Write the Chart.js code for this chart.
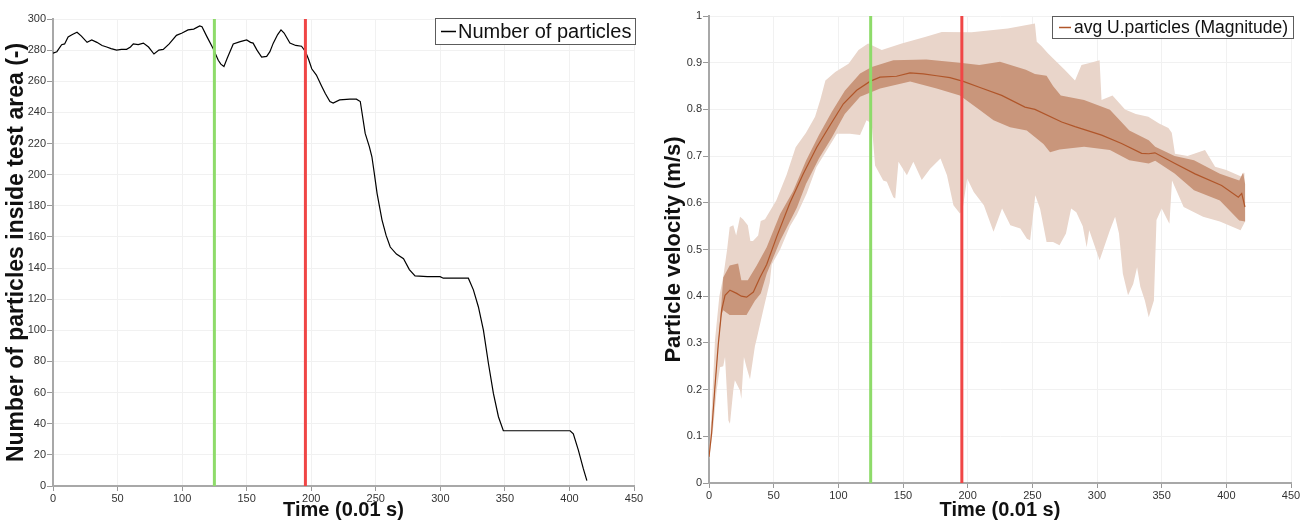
<!DOCTYPE html>
<html>
<head>
<meta charset="utf-8">
<script src="https://cdn.jsdelivr.net/npm/chart.js@4.4.1/dist/chart.umd.min.js"></script>
<style>
  body { margin: 0; background: #fff; }
  #wrap { display: flex; width: 1312px; height: 520px; }
  canvas { display: block; }
</style>
</head>
<body>
<div id="wrap">
  <canvas id="countChart" width="650" height="520"></canvas>
  <canvas id="velChart" width="662" height="520"></canvas>
</div>
<script>
// ---- data ----
const markerTimes = [125, 195.5]; // green, red

// left: particles inside the test area
const countLabel = "Number of particles";
const countTime = [0, 3, 6.7, 9, 11.7, 15, 18.6, 22, 26.4, 30, 34, 38, 41.6, 45, 49.3, 53, 57, 60, 62.2, 66,
  70, 74, 78.2, 82, 85.4, 90, 95.6, 100, 104.6, 109, 113.6, 115.4, 119, 124, 128, 130, 132.4, 135, 139.6, 145,
  150, 153, 155, 158, 161.6, 165.5, 168, 170.6, 174, 176.6, 179, 183.5, 188, 192.5, 195.6, 198, 200.4, 204, 208, 211,
  214.5, 217, 222, 230, 235, 238, 241.8, 245, 247, 249, 251, 253, 254.8, 258, 261.2, 266, 271.5, 276, 280.4, 290,
  299.8, 302.3, 315, 321.7, 325.6, 329.5, 333.4, 337.2, 341.1, 345, 348.8, 360, 380, 400.5, 403, 406.9, 410.8, 413.5];
const countValue = [278, 279, 283.5, 284, 288.5, 290, 291.5, 289, 285, 286.5, 285, 283, 282, 281, 280, 280.5, 280.5, 282, 284, 283.5,
  284.5, 282, 277.5, 280, 280.5, 284, 289.5, 291, 293, 293.5, 295.5, 295, 289, 281, 273.5, 271, 269.5, 275, 284, 285.5,
  286.5, 285, 284.5, 280, 275.5, 276, 279, 284.5, 290, 293, 291, 284.5, 283, 282.5, 279, 274, 268, 264, 257, 252,
  247, 246, 248, 248.5, 248.5, 247, 226.5, 218, 211.5, 200, 188, 179, 171, 161, 153.5, 149, 146, 139, 135, 134.5,
  134.5, 133.5, 133.5, 133.5, 126, 115, 100, 79, 59.5, 44.5, 35.5, 35.5, 35.5, 35.5, 33.5, 23, 11, 3.5];

// right: particle velocity, average plus two spread bands
const velLabel = "avg U.particles (Magnitude)";
const velTime = [0, 2, 4.6, 7.2, 9.8, 12.4, 16.2, 21.4, 25, 29.1, 34.3, 39.4, 44.6, 52.3, 62.6, 72.9, 83.3, 93.6, 103.9, 114.2,
  124.5, 132.2, 145, 155.4, 165.7, 176, 186.3, 196.6, 209.5, 226.3, 244.3, 252, 272.7, 283, 303.6, 319, 334.5, 340, 344.8, 360.3,
  375.8, 396.4, 409.3, 411.9, 414.4];
const velAvg = [0.056, 0.106, 0.206, 0.298, 0.37, 0.402, 0.413, 0.406, 0.4, 0.398, 0.409, 0.44, 0.468, 0.527, 0.6, 0.662, 0.719, 0.766, 0.812, 0.841,
  0.86, 0.869, 0.871, 0.878, 0.876, 0.872, 0.868, 0.86, 0.847, 0.83, 0.805, 0.8, 0.773, 0.763, 0.745, 0.727, 0.706, 0.705, 0.707, 0.684,
  0.662, 0.637, 0.612, 0.62, 0.591];

const darkHiTime = [0, 4.6, 7.2, 9.5, 11, 16, 22.5, 25, 30, 36.9, 44.6, 55, 65, 75, 85, 95, 105, 116.8, 125.8, 142.5,
  168, 194, 209, 225, 245, 252, 261, 266, 272, 290, 310, 325, 340, 345, 360, 375, 395, 410, 413, 414.5];
const darkHi = [0.056, 0.21, 0.3, 0.38, 0.44, 0.466, 0.47, 0.434, 0.434, 0.466, 0.505, 0.576, 0.625, 0.69, 0.745, 0.795, 0.84, 0.877, 0.891, 0.905,
  0.907, 0.9, 0.895, 0.902, 0.885, 0.876, 0.872, 0.85, 0.83, 0.82, 0.799, 0.755, 0.734, 0.72, 0.7, 0.691, 0.662, 0.648, 0.665, 0.64];
const darkLoTime = [0, 4.6, 7.2, 9.5, 11, 16, 29, 35.5, 40, 44.6, 55, 68, 75, 85, 95, 105, 116.8, 132.3, 155.5, 176,
  194, 209.6, 220, 232.8, 245.7, 258.6, 263.7, 271, 290, 310, 325, 340, 345, 360, 375, 395, 410, 414.5];
const darkLo = [0.056, 0.202, 0.296, 0.36, 0.37, 0.36, 0.36, 0.39, 0.406, 0.448, 0.519, 0.59, 0.64, 0.695, 0.74, 0.79, 0.827, 0.845, 0.86, 0.845,
  0.83, 0.798, 0.777, 0.762, 0.755, 0.726, 0.708, 0.714, 0.72, 0.713, 0.691, 0.684, 0.69, 0.663, 0.627, 0.605, 0.562, 0.56];

const lightHiTime = [0, 2, 4.6, 8, 11, 14, 16, 18.8, 21, 24, 26.3, 30, 32, 34, 38, 40, 43.3, 52, 60, 67,
  75, 82, 86, 90, 97.6, 107.9, 115.6, 123, 133.6, 149, 167, 180, 203, 231, 252, 253.4, 257.2, 262, 267.5, 275,
  283, 288, 295, 302, 303.5, 312, 321.7, 330, 339.7, 348, 355.2, 357.8, 360.3, 370, 383.5, 391.3, 400, 411.9, 414, 414.5];
const lightHi = [0.06, 0.15, 0.305, 0.4, 0.441, 0.5, 0.548, 0.552, 0.53, 0.57, 0.565, 0.552, 0.518, 0.518, 0.53, 0.561, 0.565, 0.605, 0.66, 0.719,
  0.75, 0.784, 0.82, 0.862, 0.88, 0.898, 0.927, 0.941, 0.927, 0.941, 0.955, 0.966, 0.965, 0.973, 0.984, 0.945, 0.935, 0.92, 0.905, 0.885,
  0.862, 0.895, 0.9, 0.905, 0.82, 0.83, 0.8, 0.79, 0.784, 0.77, 0.76, 0.75, 0.705, 0.7, 0.713, 0.677, 0.67, 0.656, 0.665, 0.58];
const lightLoTime = [0, 3.3, 6, 8.5, 11, 12.4, 15, 16.2, 18.8, 20, 24, 25, 27, 29, 31.7, 35.5, 37, 42, 47, 48.5,
  55, 62.6, 68, 75.5, 83, 98.9, 109, 116.8, 121.8, 125.8, 128.4, 134.7, 137.5, 142.5, 144, 146.5, 153, 158, 164.5, 171,
  179, 184, 189, 194, 196, 199.6, 204.7, 212.5, 220, 226.6, 233, 240.7, 245.8, 248.3, 252.3, 256, 261, 266, 271, 276,
  280, 284, 289, 292, 294, 302, 310, 314, 317, 320, 324, 328, 331, 333.5, 337, 340, 344, 346, 350, 356,
  358, 367, 382, 395, 411, 414.5];
const lightLo = [0.05, 0.12, 0.2, 0.248, 0.25, 0.27, 0.134, 0.127, 0.199, 0.22, 0.198, 0.18, 0.27, 0.248, 0.222, 0.293, 0.31, 0.371, 0.43, 0.468,
  0.5, 0.55, 0.575, 0.62, 0.676, 0.748, 0.748, 0.745, 0.777, 0.77, 0.68, 0.648, 0.645, 0.612, 0.609, 0.688, 0.659, 0.688, 0.649, 0.673,
  0.695, 0.659, 0.595, 0.577, 0.584, 0.652, 0.623, 0.595, 0.538, 0.588, 0.552, 0.545, 0.523, 0.52, 0.616, 0.587, 0.516, 0.516, 0.509, 0.534,
  0.588, 0.58, 0.55, 0.505, 0.541, 0.477, 0.541, 0.57, 0.534, 0.448, 0.402, 0.426, 0.462, 0.42, 0.391, 0.355, 0.391, 0.563, 0.588, 0.555,
  0.648, 0.591, 0.57, 0.56, 0.541, 0.56];

// ---- styling ----
const FONT = "'Liberation Sans', Arial, sans-serif";
const GREEN = "#8edb6a";
const RED = "#f04646";
const BROWN = "#b0562a";

const pts = (ts, vs) => ts.map((t, i) => ({ x: t, y: vs[i] }));
// closed outline: upper edge left->right, lower edge back right->left
const band = (hiT, hi, loT, lo) => pts(hiT, hi).concat(pts(loT, lo).reverse());
const vline = (t, top) => [{ x: t, y: 0 }, { x: t, y: top }];

const boxLegend = {
  id: "boxLegend",
  afterDraw(chart, args, o) {
    const { ctx, chartArea } = chart;
    ctx.save();
    ctx.font = `${o.fontSize}px ${FONT}`;
    const tw = ctx.measureText(o.text).width;
    const w = o.padLeft + o.swatch + o.gap + tw + o.padRight;
    const right = chartArea.right + o.dx;
    const top = chartArea.top + o.dy;
    const left = Math.round(right - w);
    ctx.fillStyle = "#fff";
    ctx.fillRect(left, top, w, o.height);
    ctx.strokeStyle = "#5c5c5c";
    ctx.lineWidth = 1;
    ctx.strokeRect(left + 0.5, top + 0.5, Math.round(w), o.height);
    const cy = top + o.height / 2 + 0.5;
    ctx.strokeStyle = o.color;
    ctx.lineWidth = o.lineWidth;
    ctx.beginPath();
    ctx.moveTo(left + o.padLeft, cy);
    ctx.lineTo(left + o.padLeft + o.swatch, cy);
    ctx.stroke();
    ctx.fillStyle = "#111";
    ctx.textBaseline = "middle";
    ctx.fillText(o.text, left + o.padLeft + o.swatch + o.gap, cy + 1);
    ctx.restore();
  },
};

function xScale(height) {
  return {
    type: "linear",
    min: 0,
    max: 450,
    ticks: { stepSize: 50, maxRotation: 0, autoSkip: false, padding: 1, color: "#333", font: { family: FONT, size: 11 } },
    grid: { color: "#f1f1f1", tickColor: "#999", tickLength: 5 },
    border: { color: "#a8a8a8", width: 2 },
    title: { display: true, text: "Time (0.01 s)", color: "#111", font: { family: FONT, size: 20, weight: "bold" }, padding: { top: 0, bottom: -2 } },
    afterFit(s) { s.height = height; },
  };
}

function yScale(max, step, width, title, titleSize, titlePad) {
  return {
    type: "linear",
    min: 0,
    max,
    ticks: {
      stepSize: step,
      padding: 1,
      color: "#333",
      font: { family: FONT, size: 11 },
      // plain labels: "1" and "0", not "1.0"
      callback: (v) => String(Number(v.toFixed(2))),
    },
    grid: { color: "#f1f1f1", tickColor: "#999", tickLength: 6 },
    border: { color: "#a8a8a8", width: 2 },
    title: { display: true, text: title, color: "#111", font: { family: FONT, size: titleSize, weight: "bold" }, padding: { top: titlePad, bottom: 0 } },
    afterFit(s) { s.width = width; },
  };
}

const common = {
  responsive: false,
  animation: false,
  events: [],
  elements: { point: { radius: 0 }, line: { tension: 0 } },
};

new Chart(document.getElementById("countChart"), {
  type: "line",
  data: {
    datasets: [
      { data: vline(markerTimes[0], 300), borderColor: GREEN, borderWidth: 3 },
      { data: vline(markerTimes[1], 300), borderColor: RED, borderWidth: 3 },
      { label: countLabel, data: pts(countTime, countValue), borderColor: "#000", borderWidth: 1.2 },
    ],
  },
  options: {
    ...common,
    layout: { padding: { top: 19, right: 16, left: 0, bottom: 0 } },
    scales: {
      x: xScale(34),
      y: yScale(300, 20, 53, "Number of particles inside test area (-)", 23, 3),
    },
    plugins: {
      legend: { display: false },
      tooltip: { enabled: false },
      boxLegend: { text: countLabel, color: "#000", lineWidth: 1.5, fontSize: 20, height: 26, dx: 1, dy: -1, padLeft: 6, swatch: 15, gap: 2, padRight: 4 },
    },
  },
  plugins: [boxLegend],
});

new Chart(document.getElementById("velChart"), {
  type: "line",
  data: {
    datasets: [
      { data: vline(markerTimes[0], 1), borderColor: GREEN, borderWidth: 3 },
      { data: vline(markerTimes[1], 1), borderColor: RED, borderWidth: 3 },
      { label: velLabel, data: pts(velTime, velAvg), borderColor: BROWN, borderWidth: 1.2 },
      { data: band(darkHiTime, darkHi, darkLoTime, darkLo), fill: "shape", backgroundColor: "#c9967b", borderWidth: 0 },
      { data: band(lightHiTime, lightHi, lightLoTime, lightLo), fill: "shape", backgroundColor: "#e9d5ca", borderWidth: 0 },
    ],
  },
  options: {
    ...common,
    layout: { padding: { top: 16, right: 21, left: 0, bottom: 0 } },
    scales: {
      x: xScale(37),
      y: yScale(1, 0.1, 59, "Particle velocity (m/s)", 22, 11),
    },
    plugins: {
      legend: { display: false },
      tooltip: { enabled: false },
      boxLegend: { text: velLabel, color: BROWN, lineWidth: 1.5, fontSize: 17.5, height: 22, dx: 2, dy: 0, padLeft: 7, swatch: 12, gap: 3, padRight: 5 },
    },
  },
  plugins: [boxLegend],
});
</script>
</body>
</html>
